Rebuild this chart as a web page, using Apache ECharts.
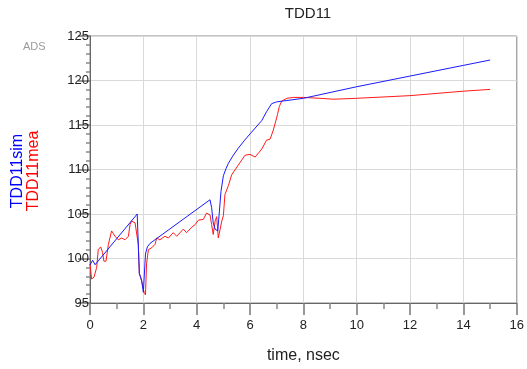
<!DOCTYPE html>
<html>
<head>
<meta charset="utf-8">
<script src="https://cdn.jsdelivr.net/npm/echarts@6/dist/echarts.min.js"></script>
<style>
html,body{margin:0;padding:0;background:#fff;}
#c{width:527px;height:369px;}
</style>
</head>
<body>
<div id="c"></div>
<script>
var titleText = 'TDD11';
var xName = 'time, nsec';
var simName = 'TDD11sim';
var meaName = 'TDD11mea';
var xTicks = [0, 2, 4, 6, 8, 10, 12, 14, 16];
var yTicks = [95, 100, 105, 110, 115, 120, 125];

var simTime = [0, 0.1, 0.19, 1.77, 1.85, 1.94, 2.0, 2.08, 2.15, 2.25, 4.5, 4.56, 4.62, 4.69, 4.79, 4.84, 4.91, 5.0, 5.1, 5.19, 5.35, 5.56, 5.8, 6.0, 6.44, 6.62, 6.81, 7.0, 7.25, 8, 10, 12, 14, 15];
var simVal  = [99.3, 99.8, 99.3, 105.0, 98.3, 97.5, 96.2, 100.5, 101.3, 101.7, 106.6, 105.7, 104.0, 103.3, 103.1, 104.9, 107.5, 109.3, 110.1, 110.7, 111.5, 112.4, 113.3, 114.0, 115.5, 116.5, 117.4, 117.6, 117.7, 118.0, 119.3, 120.5, 121.7, 122.3];

var meaTime = [0, 0.06, 0.15, 0.25, 0.31, 0.4, 0.47, 0.52, 0.6, 0.69, 0.81, 0.87, 0.94, 1.06, 1.19, 1.31, 1.44, 1.5, 1.56, 1.69, 1.75, 1.81, 1.85, 1.9, 1.96, 2.03, 2.08, 2.12, 2.19, 2.31, 2.44, 2.5, 2.62, 2.81, 2.94, 3.12, 3.25, 3.5, 3.62, 3.81, 3.94, 4.06, 4.25, 4.37, 4.5, 4.56, 4.62, 4.69, 4.75, 4.81, 4.87, 4.94, 5.0, 5.06, 5.19, 5.31, 5.56, 5.81, 6.0, 6.19, 6.44, 6.62, 6.75, 6.87, 6.97, 7.03, 7.1, 7.19, 7.38, 7.62, 8, 8.62, 9.12, 10, 12, 14, 15];
var meaVal  = [99.4, 97.7, 97.9, 99.0, 101.0, 101.3, 100.7, 99.7, 99.7, 101.6, 103.1, 103.2, 102.5, 102.1, 102.3, 102.1, 102.5, 103.8, 104.2, 104.0, 103.8, 101.6, 98.3, 97.9, 98.0, 96.2, 95.9, 99.4, 101.0, 101.2, 101.6, 102.3, 102.1, 102.5, 102.3, 102.9, 102.5, 103.3, 102.9, 103.5, 103.8, 104.3, 104.4, 105.1, 104.9, 103.8, 102.7, 104.2, 104.7, 102.3, 102.5, 104.2, 104.8, 107.2, 108.2, 109.4, 110.5, 111.6, 111.7, 111.4, 112.3, 113.3, 113.4, 114.4, 115.5, 116.2, 117.1, 117.7, 118.0, 118.1, 118.1, 118.0, 117.9, 118.0, 118.3, 118.8, 119.0];

function pairs(t, v) { return t.map(function (x, i) { return [x, v[i]]; }); }

var font = 'Liberation Sans, Arial, sans-serif';
var chart = echarts.init(document.getElementById('c'));
chart.setOption({
  animation: false,
  backgroundColor: '#fff',
  title: {
    text: titleText, left: 303, top: 1, textAlign: 'center',
    textStyle: { fontFamily: font, fontSize: 15, fontWeight: 'normal', color: '#222' }
  },
  grid: { left: 90, right: 10, top: 36, bottom: 63, show: true, borderColor: '#888', borderWidth: 1, backgroundColor: 'transparent' },
  xAxis: {
    type: 'value', min: xTicks[0], max: xTicks[xTicks.length - 1], interval: 2,
    name: xName, nameLocation: 'middle', nameGap: 45,
    nameTextStyle: { fontFamily: font, fontSize: 16, color: '#222' },
    axisLine: { show: true, lineStyle: { color: '#666', width: 1 } },
    axisTick: { show: true, length: 12, lineStyle: { color: '#777', width: 1.5 } },
    minorTick: { show: true, splitNumber: 2, length: 6, lineStyle: { color: '#888', width: 1.5 } },
    axisLabel: { fontFamily: font, fontSize: 13, color: '#222', margin: 16 },
    splitLine: { show: true, lineStyle: { color: '#d9d9d9', width: 1 } }
  },
  yAxis: {
    type: 'value', min: yTicks[0], max: yTicks[yTicks.length - 1], interval: 5,
    axisLine: { show: true, lineStyle: { color: '#666', width: 1 } },
    axisTick: { show: true, length: 12, lineStyle: { color: '#777', width: 1.5 } },
    minorTick: { show: true, splitNumber: 5, length: 4, lineStyle: { color: '#888', width: 1.5 } },
    axisLabel: { fontFamily: font, fontSize: 13, color: '#222', margin: 1 },
    splitLine: { show: true, lineStyle: { color: '#d9d9d9', width: 1 } }
  },
  graphic: [
    { type: 'text', left: 23, top: 41, style: { text: 'ADS', fontFamily: font, fontSize: 11, fill: '#9a9a9a' } },
    { type: 'text', x: 18, y: 171, rotation: Math.PI / 2, style: { text: simName, fontFamily: font, fontSize: 16, fill: '#0000ff', textAlign: 'center', textVerticalAlign: 'middle' } },
    { type: 'text', x: 34, y: 171, rotation: Math.PI / 2, style: { text: meaName, fontFamily: font, fontSize: 16, fill: '#ff0000', textAlign: 'center', textVerticalAlign: 'middle' } }
  ],
  series: [
    { name: meaName, type: 'line', data: pairs(meaTime, meaVal), showSymbol: false, symbol: 'none', lineStyle: { color: '#ff1a1a', width: 1 }, z: 3 },
    { name: simName, type: 'line', data: pairs(simTime, simVal), showSymbol: false, symbol: 'none', lineStyle: { color: '#1a1aff', width: 1 }, z: 4 }
  ]
});
</script>
</body>
</html>
